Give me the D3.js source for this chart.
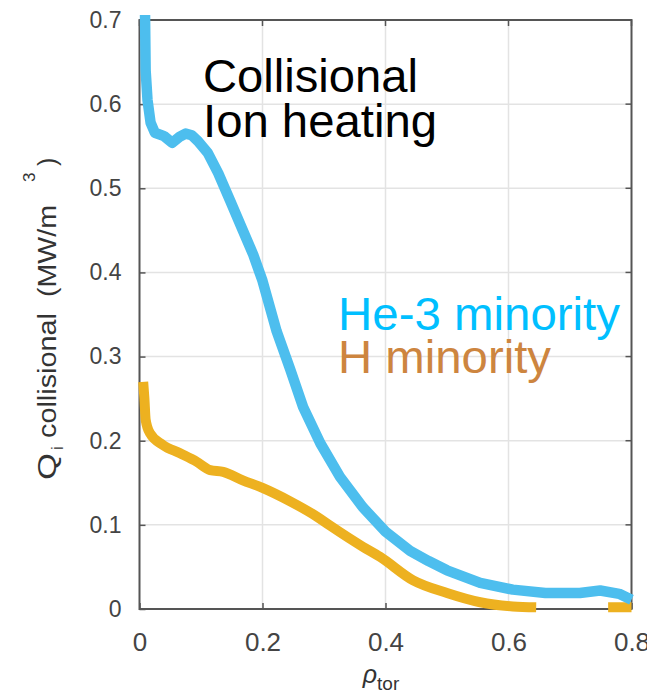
<!DOCTYPE html>
<html><head><meta charset="utf-8">
<script src="https://cdn.jsdelivr.net/npm/d3@7"></script>
<style>body{margin:0;background:#fff}svg{display:block}text{font-family:"Liberation Sans",Arial,sans-serif}</style>
</head><body>
<svg id="c" width="647" height="692"></svg>
<script>
const rhoHe3 = [0.009,0.010,0.013,0.018,0.025,0.040,0.053,0.065,0.075,0.085,0.095,0.111,0.128,0.147,0.168,0.185,0.200,0.223,0.245,0.266,0.294,0.326,0.363,0.400,0.440,0.470,0.500,0.554,0.607,0.660,0.716,0.749,0.780,0.800];
const qHe3   = [0.706,0.640,0.605,0.578,0.566,0.562,0.554,0.561,0.565,0.563,0.556,0.542,0.518,0.486,0.450,0.421,0.390,0.330,0.285,0.240,0.197,0.157,0.121,0.092,0.069,0.057,0.046,0.031,0.023,0.019,0.019,0.022,0.018,0.011];
const rhoH = [0.006,0.008,0.010,0.017,0.038,0.066,0.093,0.115,0.136,0.168,0.200,0.245,0.288,0.310,0.363,0.391,0.445,0.500,0.554,0.607,0.645,0.700,0.762,0.800];
const qH   = [0.270,0.250,0.225,0.209,0.195,0.185,0.175,0.165,0.163,0.153,0.144,0.128,0.110,0.099,0.074,0.062,0.034,0.019,0.008,0.003,0.002,null,0.002,0.002];
const xTicks = [0,0.2,0.4,0.6,0.8];
const xTickLabels = ["0","0.2","0.4","0.6","0.8"];
const yTicks = [0,0.1,0.2,0.3,0.4,0.5,0.6,0.7];
const yTickLabels = ["0","0.1","0.2","0.3","0.4","0.5","0.6","0.7"];

const svg = d3.select("#c");
const L=139.5, R=631.5, T=20, B=609;
const x = d3.scaleLinear().domain([0,0.8]).range([L,R]);
const y = d3.scaleLinear().domain([0,0.7]).range([B,T]);

// grid
svg.append("g").selectAll("line").data(xTicks.slice(1,-1)).join("line")
  .attr("x1",d=>x(d)).attr("x2",d=>x(d)).attr("y1",T).attr("y2",B)
  .attr("stroke","#e3e3e3").attr("stroke-width",1.5);
svg.append("g").selectAll("line").data(yTicks.slice(1,-1)).join("line")
  .attr("x1",L).attr("x2",R).attr("y1",d=>y(d)).attr("y2",d=>y(d))
  .attr("stroke","#e3e3e3").attr("stroke-width",1.5);

// axes
const ax = svg.append("g").attr("transform",`translate(0,${B})`)
  .call(d3.axisBottom(x).tickValues(xTicks).tickFormat((d,i)=>xTickLabels[i]).tickSizeInner(-6).tickSizeOuter(0).tickPadding(24));
ax.select(".domain").remove();
ax.selectAll("line").attr("stroke","#555").attr("stroke-width",1.5);
ax.selectAll("text").attr("font-size",26).attr("fill","#444").attr("font-family","Liberation Sans, Arial, sans-serif");
const ay = svg.append("g").attr("transform",`translate(${L},0)`)
  .call(d3.axisLeft(y).tickValues(yTicks).tickFormat((d,i)=>yTickLabels[i]).tickSizeInner(-6).tickSizeOuter(0).tickPadding(18));
ay.select(".domain").remove();
ay.selectAll("line").attr("stroke","#555").attr("stroke-width",1.5);
ay.selectAll("text").attr("font-size",23).attr("fill","#444").attr("font-family","Liberation Sans, Arial, sans-serif");
// right / top ticks
svg.append("g").selectAll("line").data(yTicks).join("line")
  .attr("x1",R).attr("x2",R-6).attr("y1",d=>y(d)).attr("y2",d=>y(d)).attr("stroke","#555").attr("stroke-width",1.5);
svg.append("g").selectAll("line").data(xTicks).join("line")
  .attr("x1",d=>x(d)).attr("x2",d=>x(d)).attr("y1",T).attr("y2",T+6).attr("stroke","#555").attr("stroke-width",1.5);
svg.append("rect").attr("x",L).attr("y",T).attr("width",R-L).attr("height",B-T)
  .attr("fill","none").attr("stroke","#555").attr("stroke-width",2);

// lines
const he3 = rhoHe3.map((r,i)=>[r,qHe3[i]]);
const hh = rhoH.map((r,i)=>[r,qH[i]]);
const line = d3.line().defined(d=>d[1]!==null).x(d=>x(d[0])).y(d=>y(d[1])).curve(d3.curveMonotoneX);
svg.append("path").datum(hh).attr("d",line).attr("fill","none").attr("stroke","#EDB120")
  .attr("stroke-width",10).attr("stroke-linejoin","round").attr("stroke-linecap","butt");
svg.append("path").datum(he3).attr("d",d3.line().x(d=>x(d[0])).y(d=>y(d[1])).curve(d3.curveLinear))
  .attr("fill","none").attr("stroke","#4DBEEE")
  .attr("stroke-width",10.5).attr("stroke-linejoin","round").attr("stroke-linecap","butt");

// annotations
function note(t,xx,yy,len,col){
  svg.append("text").attr("x",xx).attr("y",yy).attr("font-size",47).attr("fill",col)
    .attr("textLength",len).attr("lengthAdjust","spacingAndGlyphs").text(t);
}
note("Collisional",203,92,215,"#000");
note("Ion heating",203,137,234,"#000");
note("He-3 minority",338,330,282,"#00BFFF");
note("H minority",338,373,213,"#CD853F");

// y label
const yl = svg.append("g").attr("transform","translate(56,480) rotate(-90)").attr("fill","#333");
yl.append("text").attr("x",0).attr("y",0).attr("font-size",25).attr("textLength",27).attr("lengthAdjust","spacingAndGlyphs").text("Q");
yl.append("text").attr("x",30).attr("y",7).attr("font-size",17).text("i");
yl.append("text").attr("x",42).attr("y",0).attr("font-size",25).attr("textLength",125).attr("lengthAdjust","spacingAndGlyphs").text("collisional");
yl.append("text").attr("x",183).attr("y",0).attr("font-size",25).attr("textLength",92).attr("lengthAdjust","spacingAndGlyphs").text("(MW/m");
yl.append("text").attr("x",298).attr("y",-21).attr("font-size",17).text("3");
yl.append("text").attr("x",314).attr("y",0).attr("font-size",25).text(")");

// x label
const xl = svg.append("text").attr("x",381).attr("y",683).attr("text-anchor","middle").attr("fill","#333");
xl.append("tspan").attr("font-size",25).attr("font-style","italic").text("ρ");
xl.append("tspan").attr("font-size",19).attr("dy",7).text("tor");
</script>
</body></html>
